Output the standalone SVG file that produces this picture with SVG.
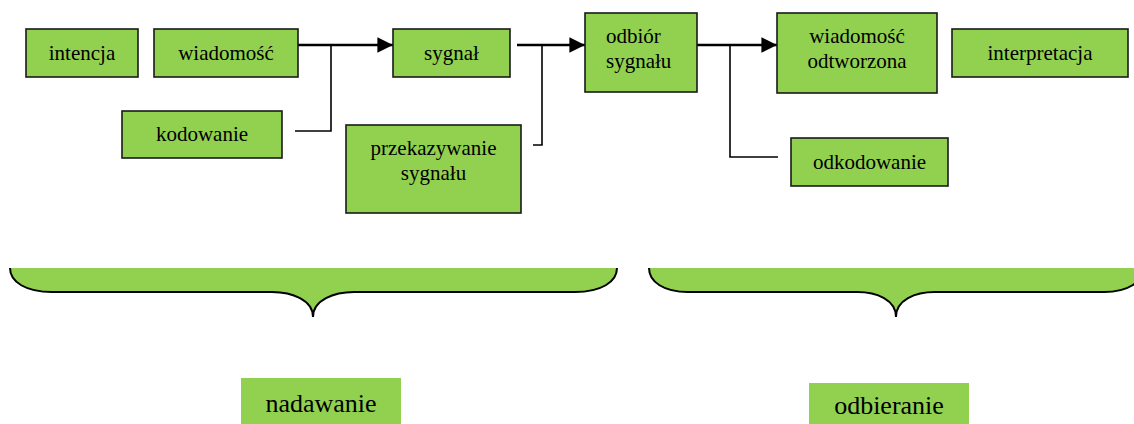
<svg xmlns="http://www.w3.org/2000/svg" width="1134" height="424" viewBox="0 0 1134 424">
  <style>
    .box { fill: #92D050; stroke: #1a1a1a; stroke-width: 1.6; }
    .tag { fill: #92D050; stroke: none; }
    .lbl { font-family: 'Liberation Serif', 'DejaVu Serif', serif; font-size: 21px; fill: #000; }
    .big { font-family: 'Liberation Serif', 'DejaVu Serif', serif; font-size: 26px; fill: #000; }
    .flow { stroke: #000; stroke-width: 2.4; fill: none; }
    .branch { stroke: #000; stroke-width: 1.6; fill: none; }
    .brace { fill: #92D050; stroke: #000; stroke-width: 2; }
  </style>
  <defs>
    <marker id="arrow" viewBox="0 0 10 10" refX="10" refY="5" markerWidth="6.5" markerHeight="6.5" markerUnits="strokeWidth" orient="auto">
      <path d="M0,0 L10,5 L0,10 Z" fill="#000"/>
    </marker>
  </defs>
  <rect width="1134" height="424" fill="#fff"/>

  <!-- connectors -->
  <g id="connectors">
    <line class="flow" x1="298" y1="45" x2="393" y2="45" marker-end="url(#arrow)"/>
    <line class="flow" x1="517" y1="45" x2="585" y2="45" marker-end="url(#arrow)"/>
    <line class="flow" x1="697" y1="45" x2="777" y2="45" marker-end="url(#arrow)"/>
    <polyline class="branch" points="295,131 331,131 331,45"/>
    <polyline class="branch" points="533,145 542,145 542,45"/>
    <polyline class="branch" points="778,157 730,157 730,45"/>
  </g>

  <g id="intencja">
    <rect class="box" x="26" y="29" width="112" height="48"/>
    <text class="lbl" x="82" y="60" text-anchor="middle" font-family="Liberation Serif, serif">intencja</text>
  </g>
  <g id="wiadomosc">
    <rect class="box" x="154" y="29" width="144" height="48"/>
    <text class="lbl" x="226" y="60" text-anchor="middle">wiadomość</text>
  </g>
  <g id="kodowanie">
    <rect class="box" x="122" y="111" width="160" height="47"/>
    <text class="lbl" x="202" y="141" text-anchor="middle">kodowanie</text>
  </g>
  <g id="sygnal">
    <rect class="box" x="393" y="29" width="117" height="48"/>
    <text class="lbl" x="451.5" y="60" text-anchor="middle">sygnał</text>
  </g>
  <g id="przekazywanie">
    <rect class="box" x="346" y="125" width="175" height="88"/>
    <text class="lbl" x="433.5" y="155" text-anchor="middle">przekazywanie</text>
    <text class="lbl" x="433.5" y="180" text-anchor="middle">sygnału</text>
  </g>
  <g id="odbior">
    <rect class="box" x="585" y="13" width="112" height="79"/>
    <text class="lbl" x="606" y="43">odbiór</text>
    <text class="lbl" x="606" y="68">sygnału</text>
  </g>
  <g id="wiadomosc-odtworzona">
    <rect class="box" x="777" y="13" width="160" height="80"/>
    <text class="lbl" x="857" y="43" text-anchor="middle">wiadomość</text>
    <text class="lbl" x="857" y="68" text-anchor="middle">odtworzona</text>
  </g>
  <g id="interpretacja">
    <rect class="box" x="952" y="29" width="176" height="48"/>
    <text class="lbl" x="1040" y="60" text-anchor="middle">interpretacja</text>
  </g>
  <g id="odkodowanie">
    <rect class="box" x="791" y="138" width="157" height="48"/>
    <text class="lbl" x="869.5" y="169" text-anchor="middle">odkodowanie</text>
  </g>

  <!-- braces: open paths so the straight top edge is filled but not stroked -->
  <g id="brace-nadawanie">
    <path class="brace" d="M10,268 C10,282 26,292 52,292 L272,292 C292,292 313,300 313,317 C313,300 334,292 354,292 L575,292 C601,292 617,282 617,268"/>
  </g>
  <g id="brace-odbieranie">
    <path class="brace" d="M649,268 C649,282 664,292 688,292 L857,292 C877,292 896,300 896,317 C896,300 915,292 935,292 L1104,292 C1128,292 1143,282 1143,268"/>
  </g>

  <g id="nadawanie">
    <rect class="tag" x="241" y="378" width="160" height="46"/>
    <text class="big" x="321" y="412" text-anchor="middle">nadawanie</text>
  </g>
  <g id="odbieranie">
    <rect class="tag" x="809" y="383" width="160" height="41"/>
    <text class="big" x="889" y="414" text-anchor="middle">odbieranie</text>
  </g>
</svg>
